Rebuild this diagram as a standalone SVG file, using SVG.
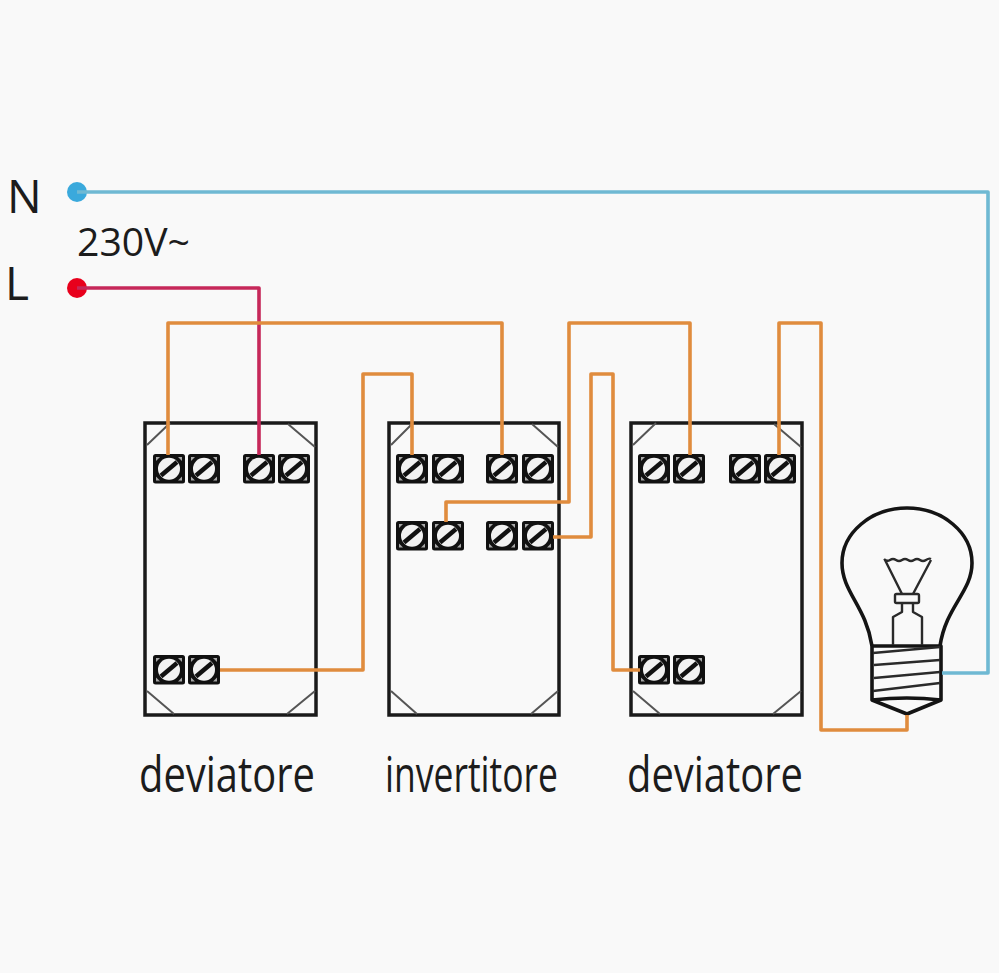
<svg xmlns="http://www.w3.org/2000/svg" width="999" height="973" viewBox="0 0 999 973">
<style>
.box{fill:none;stroke:#1a1a1a;stroke-width:3.5}
.corner{fill:none;stroke:#555;stroke-width:2}
.w{fill:none;stroke-width:3.6;stroke-linejoin:round}
.o{stroke:#e08c3e}
.b{stroke:#6fb9d3}
.r{stroke:#c6285a}
.t{font-family:"Open Sans","Liberation Sans",sans-serif;fill:#1c1c1c}
.lab{font-size:50px}
.bl{fill:none;stroke:#141414;stroke-width:3.6;stroke-linejoin:round}
.bt{fill:none;stroke:#2a2a2a;stroke-width:2.4;stroke-linejoin:round}
</style>
<defs>
<g id="term">
<rect x="0" y="0" width="32" height="29.500" rx="2.500" fill="#111"/>
<path d="M3 3h4l-4 4zM29 3h-4l4 4zM3 26.500h4l-4-4zM29 26.500h-4l4-4z" fill="#a8a8a8"/>
<circle cx="16" cy="14.750" r="11" fill="#f2f2f2"/>
<path d="M8 21.500L24 8" stroke="#111" stroke-width="4.500"/>
</g>
</defs>
<rect width="999" height="973" fill="#f9f9f9"/>
<g id="sw1">
<rect class="box" x="145" y="423" width="171" height="292"/>
<path class="corner" d="M147 445L170 423M288 424L315 447M147 691L174 714M287 714L315 691"/>
<use href="#term" x="153" y="454"/><use href="#term" x="188" y="454"/><use href="#term" x="243" y="454"/><use href="#term" x="278" y="454"/>
<use href="#term" x="153" y="655"/><use href="#term" x="188" y="655"/>
<text class="t lab" x="139" y="792" textLength="176" lengthAdjust="spacingAndGlyphs">deviatore</text>
</g>
<g id="sw2">
<rect class="box" x="389" y="423" width="170" height="292"/>
<path class="corner" d="M391 445L413 423M532 424L558 447M391 691L417 714M531 714L558 691"/>
<use href="#term" x="396" y="454"/><use href="#term" x="432" y="454"/><use href="#term" x="486" y="454"/><use href="#term" x="522" y="454"/>
<use href="#term" x="396" y="521"/><use href="#term" x="432" y="521"/><use href="#term" x="486" y="521"/><use href="#term" x="522" y="521"/>
<text class="t lab" x="385" y="792" textLength="173" lengthAdjust="spacingAndGlyphs">invertitore</text>
</g>
<g id="sw3">
<rect class="box" x="631" y="423" width="171" height="292"/>
<path class="corner" d="M633 445L656 423M774 424L801 447M633 691L660 714M773 714L801 691"/>
<use href="#term" x="638" y="454"/><use href="#term" x="673" y="454"/><use href="#term" x="729" y="454"/><use href="#term" x="764" y="454"/>
<use href="#term" x="638" y="655"/><use href="#term" x="673" y="655"/>
<text class="t lab" x="627" y="792" textLength="176" lengthAdjust="spacingAndGlyphs">deviatore</text>
</g>
<g id="lamp">
<path class="bl" d="M872 646C866 606 842 592 842 563C842 533 871 508 907 508C943 508 972 533 972 563C972 592 946 606 940 646"/>
<path class="bl" d="M872 646H941V700L907 714L872 700Z"/>
<path class="bl" d="M872 700Q907 696 941 700"/>
<path class="bt" d="M873 653L940 647M874 665L940 660M874 678L940 672M873 691L940 683"/>
<path class="bt" stroke-width="2" d="M884 559q3 3 6 1t6 0t6 0t6 0t6 0t6 0t6 0t5-1M885 560L902 594M931 560L913 594"/>
<rect class="bt" x="895" y="594" width="24" height="9" rx="1.500"/>
<path class="bt" d="M902 603V612L893 617V645M913 603V612L922 617V645"/>
</g>
<g id="source">
<circle cx="77" cy="192" r="10" fill="#3aa9dc"/>
<circle cx="77" cy="288" r="10" fill="#e8001c"/>
<text class="t" x="7" y="213" font-size="46">N</text>
<text class="t" x="5" y="300" font-size="46">L</text>
<text class="t" x="77" y="256" font-size="38" textLength="113" lengthAdjust="spacingAndGlyphs">230V~</text>
</g>
<g id="connectors">
<path class="w b" d="M77 192H988V673H942"/>
<path class="w r" d="M77 288H259V455"/>
<path class="w o" d="M168 455V323H502V455"/>
<path class="w o" d="M220 670H363V374H412V455"/>
<path class="w o" d="M446 522V502H569V323H690V455"/>
<path class="w o" d="M553 537H591V374H613V670H640"/>
<path class="w o" d="M779 455V323H821V730H907V715"/>
</g>
</svg>
